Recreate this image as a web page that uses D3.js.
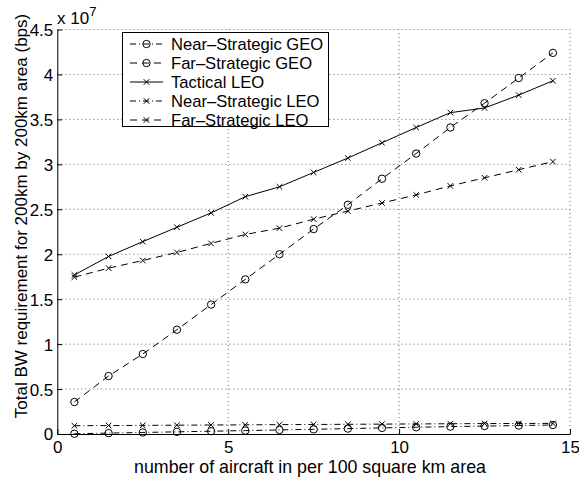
<!DOCTYPE html>
<html><head><meta charset="utf-8">
<script src="https://cdn.jsdelivr.net/npm/d3@7"></script>
<style>body{margin:0;background:#fff}svg{display:block}text{font-family:"Liberation Sans",Arial,Helvetica,sans-serif;fill:#000}</style>
</head><body><svg id="c" width="579" height="477"></svg>
<script>
const xValues = [0.5,1.5,2.5,3.5,4.5,5.5,6.5,7.5,8.5,9.5,10.5,11.5,12.5,13.5,14.5];
const nearGEO = [0.003,0.010,0.017,0.024,0.031,0.038,0.045,0.052,0.060,0.068,0.075,0.082,0.088,0.094,0.100];
const farGEO = [0.356,0.645,0.89,1.16,1.44,1.72,2.00,2.28,2.55,2.84,3.12,3.41,3.68,3.96,4.24];
const tacticalLEO = [1.77,1.975,2.14,2.30,2.46,2.64,2.75,2.91,3.07,3.24,3.41,3.575,3.627,3.77,3.93];
const nearLEO = [0.092,0.094,0.096,0.098,0.100,0.102,0.104,0.106,0.108,0.110,0.112,0.114,0.116,0.117,0.118];
const farLEO = [1.745,1.845,1.93,2.02,2.12,2.22,2.29,2.39,2.48,2.57,2.66,2.76,2.85,2.94,3.03];
const xTicks = [0,5,10,15];
const yTicks = [0,0.5,1,1.5,2,2.5,3,3.5,4,4.5];
const seriesNames = ["Near\u2013Strategic GEO","Far\u2013Strategic GEO","Tactical LEO","Near\u2013Strategic LEO","Far\u2013Strategic LEO"];

const series = [
  {name: seriesNames[0], values: nearGEO, dash: "6,3,1,3", marker: "circle"},
  {name: seriesNames[1], values: farGEO, dash: "7,5", marker: "circle"},
  {name: seriesNames[2], values: tacticalLEO, dash: null, marker: "x"},
  {name: seriesNames[3], values: nearLEO, dash: "6,3,1,3", marker: "x"},
  {name: seriesNames[4], values: farLEO, dash: "7,5", marker: "x"}
];

const svg = d3.select("#c");
svg.append("rect").attr("width",579).attr("height",477).attr("fill","#fff");
const L = 57.3, R = 570, T = 29.5, B = 434;
const x = d3.scaleLinear().domain([0,15]).range([L,R]);
const y = d3.scaleLinear().domain([0,4.5]).range([B,T]);

// grid
const g = svg.append("g");
g.selectAll(".gx").data(xTicks.slice(1)).enter().append("line")
  .attr("x1",d=>x(d)).attr("x2",d=>x(d)).attr("y1",B).attr("y2",T)
  .attr("stroke","#666").attr("stroke-width",1).attr("stroke-dasharray","1,3");
g.selectAll(".gy").data(yTicks.slice(1)).enter().append("line")
  .attr("x1",L).attr("x2",R).attr("y1",d=>y(d)).attr("y2",d=>y(d))
  .attr("stroke","#666").attr("stroke-width",1).attr("stroke-dasharray","1,3");

// axes
const fmt = d => String(d);
const xAxis = svg.append("g").attr("transform",`translate(0,${B})`)
  .call(d3.axisBottom(x).tickValues(xTicks).tickFormat(fmt).tickSizeInner(-5).tickSizeOuter(0).tickPadding(7));
const yAxis = svg.append("g").attr("transform",`translate(${L},0)`)
  .call(d3.axisLeft(y).tickValues(yTicks).tickFormat(fmt).tickSizeInner(-5).tickSizeOuter(0).tickPadding(4));
[xAxis,yAxis].forEach(a=>{
  a.select(".domain").attr("stroke","#000").attr("stroke-width",1);
  a.selectAll(".tick line").attr("stroke","#000");
  a.selectAll("text").attr("font-size",17).attr("font-family","Liberation Sans, Arial, sans-serif").attr("fill","#000");
});
yAxis.selectAll("text").attr("dy","0.35em");

// lines
const line = d3.line().x((d,i)=>x(xValues[i])).y(d=>y(d));
function drawMarker(sel, type, cx, cy){
  if(type==="circle"){
    sel.append("circle").attr("cx",cx).attr("cy",cy).attr("r",3.7)
      .attr("fill","none").attr("stroke","#000").attr("stroke-width",1);
  } else {
    const s=2.8;
    sel.append("path").attr("d",`M${cx-s},${cy-s}L${cx+s},${cy+s}M${cx-s},${cy+s}L${cx+s},${cy-s}`)
      .attr("stroke","#000").attr("stroke-width",1).attr("fill","none");
  }
}
series.forEach(s=>{
  svg.append("path").datum(s.values).attr("d",line).attr("fill","none")
    .attr("stroke","#000").attr("stroke-width",1)
    .attr("stroke-dasharray",s.dash);
  const mg = svg.append("g");
  s.values.forEach((v,i)=>drawMarker(mg,s.marker,x(xValues[i]),y(v)));
});

// labels
svg.append("text").attr("x",310).attr("y",473).attr("text-anchor","middle").attr("font-size",17.8)
  .text("number of aircraft in per 100 square km area");
svg.append("text").attr("transform","translate(27,216) rotate(-90)").attr("text-anchor","middle").attr("font-size",17)
  .text("Total BW requirement for 200km by 200km area (bps)");
const ex = svg.append("text").attr("x",57).attr("y",24).attr("font-size",17);
ex.append("tspan").text("x 10");
ex.append("tspan").attr("dy",-8).attr("font-size",13).text("7");

// legend
const lg = svg.append("g");
lg.append("rect").attr("x",122.5).attr("y",32.5).attr("width",206).attr("height",94)
  .attr("fill","#fff").attr("stroke","#000").attr("stroke-width",1);
series.forEach((s,i)=>{
  const cy = 44 + i*19;
  lg.append("line").attr("x1",130).attr("x2",163).attr("y1",cy).attr("y2",cy)
    .attr("stroke","#000").attr("stroke-width",1).attr("stroke-dasharray",s.dash);
  drawMarker(lg,s.marker,146.5,cy);
  lg.append("text").attr("x",171).attr("y",cy).attr("dy","0.36em").attr("font-size",16.6).text(s.name);
});
</script></body></html>
